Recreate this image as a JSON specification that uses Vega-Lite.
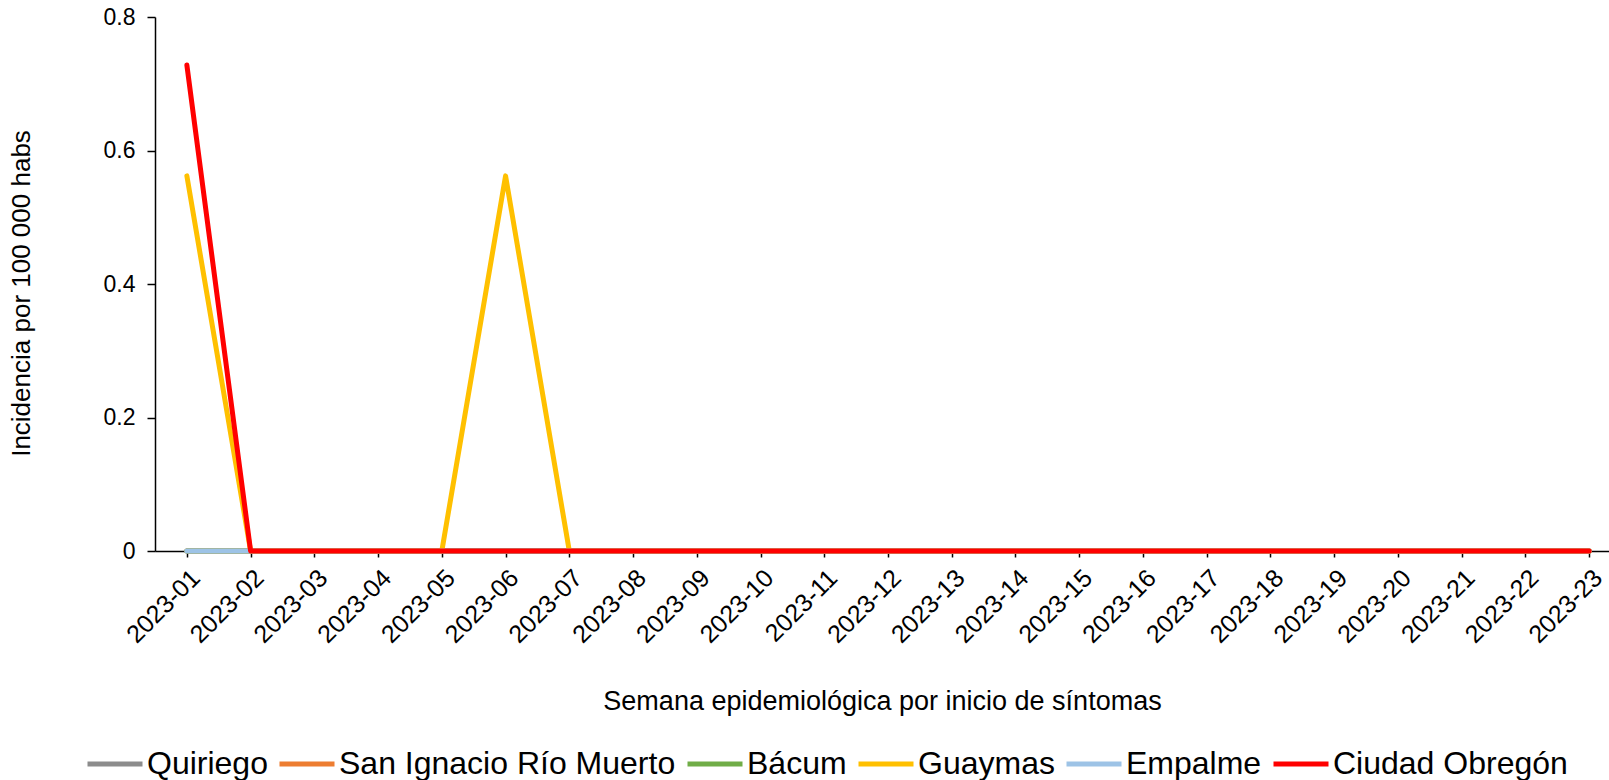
{
  "$schema": "https://vega.github.io/schema/vega-lite/v6.json",
  "autosize": {"type": "none"},
  "padding": {"left": 155, "top": 17, "right": 0, "bottom": 229},
  "width": 1454,
  "height": 534,
  "background": "white",
  "config": {
    "view": {"stroke": null},
    "font": "Liberation Sans",
    "axis": {"grid": false, "domainColor": "#000", "tickColor": "#000", "labelColor": "#000", "titleColor": "#000", "titleFontWeight": "normal", "labelFont": "Liberation Sans", "titleFont": "Liberation Sans"},
    "legend": {"labelFont": "Liberation Sans", "labelColor": "#000"}
  },
  "data": {"values": [
    {"semana":"2023-01","municipio":"Quiriego","valor":0},{"semana":"2023-02","municipio":"Quiriego","valor":0},{"semana":"2023-03","municipio":"Quiriego","valor":0},{"semana":"2023-04","municipio":"Quiriego","valor":0},{"semana":"2023-05","municipio":"Quiriego","valor":0},{"semana":"2023-06","municipio":"Quiriego","valor":0},{"semana":"2023-07","municipio":"Quiriego","valor":0},{"semana":"2023-08","municipio":"Quiriego","valor":0},{"semana":"2023-09","municipio":"Quiriego","valor":0},{"semana":"2023-10","municipio":"Quiriego","valor":0},{"semana":"2023-11","municipio":"Quiriego","valor":0},{"semana":"2023-12","municipio":"Quiriego","valor":0},{"semana":"2023-13","municipio":"Quiriego","valor":0},{"semana":"2023-14","municipio":"Quiriego","valor":0},{"semana":"2023-15","municipio":"Quiriego","valor":0},{"semana":"2023-16","municipio":"Quiriego","valor":0},{"semana":"2023-17","municipio":"Quiriego","valor":0},{"semana":"2023-18","municipio":"Quiriego","valor":0},{"semana":"2023-19","municipio":"Quiriego","valor":0},{"semana":"2023-20","municipio":"Quiriego","valor":0},{"semana":"2023-21","municipio":"Quiriego","valor":0},{"semana":"2023-22","municipio":"Quiriego","valor":0},{"semana":"2023-23","municipio":"Quiriego","valor":0},
    {"semana":"2023-01","municipio":"San Ignacio Río Muerto","valor":0},{"semana":"2023-02","municipio":"San Ignacio Río Muerto","valor":0},{"semana":"2023-03","municipio":"San Ignacio Río Muerto","valor":0},{"semana":"2023-04","municipio":"San Ignacio Río Muerto","valor":0},{"semana":"2023-05","municipio":"San Ignacio Río Muerto","valor":0},{"semana":"2023-06","municipio":"San Ignacio Río Muerto","valor":0},{"semana":"2023-07","municipio":"San Ignacio Río Muerto","valor":0},{"semana":"2023-08","municipio":"San Ignacio Río Muerto","valor":0},{"semana":"2023-09","municipio":"San Ignacio Río Muerto","valor":0},{"semana":"2023-10","municipio":"San Ignacio Río Muerto","valor":0},{"semana":"2023-11","municipio":"San Ignacio Río Muerto","valor":0},{"semana":"2023-12","municipio":"San Ignacio Río Muerto","valor":0},{"semana":"2023-13","municipio":"San Ignacio Río Muerto","valor":0},{"semana":"2023-14","municipio":"San Ignacio Río Muerto","valor":0},{"semana":"2023-15","municipio":"San Ignacio Río Muerto","valor":0},{"semana":"2023-16","municipio":"San Ignacio Río Muerto","valor":0},{"semana":"2023-17","municipio":"San Ignacio Río Muerto","valor":0},{"semana":"2023-18","municipio":"San Ignacio Río Muerto","valor":0},{"semana":"2023-19","municipio":"San Ignacio Río Muerto","valor":0},{"semana":"2023-20","municipio":"San Ignacio Río Muerto","valor":0},{"semana":"2023-21","municipio":"San Ignacio Río Muerto","valor":0},{"semana":"2023-22","municipio":"San Ignacio Río Muerto","valor":0},{"semana":"2023-23","municipio":"San Ignacio Río Muerto","valor":0},
    {"semana":"2023-01","municipio":"Bácum","valor":0},{"semana":"2023-02","municipio":"Bácum","valor":0},{"semana":"2023-03","municipio":"Bácum","valor":0},{"semana":"2023-04","municipio":"Bácum","valor":0},{"semana":"2023-05","municipio":"Bácum","valor":0},{"semana":"2023-06","municipio":"Bácum","valor":0},{"semana":"2023-07","municipio":"Bácum","valor":0},{"semana":"2023-08","municipio":"Bácum","valor":0},{"semana":"2023-09","municipio":"Bácum","valor":0},{"semana":"2023-10","municipio":"Bácum","valor":0},{"semana":"2023-11","municipio":"Bácum","valor":0},{"semana":"2023-12","municipio":"Bácum","valor":0},{"semana":"2023-13","municipio":"Bácum","valor":0},{"semana":"2023-14","municipio":"Bácum","valor":0},{"semana":"2023-15","municipio":"Bácum","valor":0},{"semana":"2023-16","municipio":"Bácum","valor":0},{"semana":"2023-17","municipio":"Bácum","valor":0},{"semana":"2023-18","municipio":"Bácum","valor":0},{"semana":"2023-19","municipio":"Bácum","valor":0},{"semana":"2023-20","municipio":"Bácum","valor":0},{"semana":"2023-21","municipio":"Bácum","valor":0},{"semana":"2023-22","municipio":"Bácum","valor":0},{"semana":"2023-23","municipio":"Bácum","valor":0},
    {"semana":"2023-01","municipio":"Guaymas","valor":0.562},{"semana":"2023-02","municipio":"Guaymas","valor":0},{"semana":"2023-03","municipio":"Guaymas","valor":0},{"semana":"2023-04","municipio":"Guaymas","valor":0},{"semana":"2023-05","municipio":"Guaymas","valor":0},{"semana":"2023-06","municipio":"Guaymas","valor":0.562},{"semana":"2023-07","municipio":"Guaymas","valor":0},{"semana":"2023-08","municipio":"Guaymas","valor":0},{"semana":"2023-09","municipio":"Guaymas","valor":0},{"semana":"2023-10","municipio":"Guaymas","valor":0},{"semana":"2023-11","municipio":"Guaymas","valor":0},{"semana":"2023-12","municipio":"Guaymas","valor":0},{"semana":"2023-13","municipio":"Guaymas","valor":0},{"semana":"2023-14","municipio":"Guaymas","valor":0},{"semana":"2023-15","municipio":"Guaymas","valor":0},{"semana":"2023-16","municipio":"Guaymas","valor":0},{"semana":"2023-17","municipio":"Guaymas","valor":0},{"semana":"2023-18","municipio":"Guaymas","valor":0},{"semana":"2023-19","municipio":"Guaymas","valor":0},{"semana":"2023-20","municipio":"Guaymas","valor":0},{"semana":"2023-21","municipio":"Guaymas","valor":0},{"semana":"2023-22","municipio":"Guaymas","valor":0},{"semana":"2023-23","municipio":"Guaymas","valor":0},
    {"semana":"2023-01","municipio":"Empalme","valor":0},{"semana":"2023-02","municipio":"Empalme","valor":0},{"semana":"2023-03","municipio":"Empalme","valor":0},{"semana":"2023-04","municipio":"Empalme","valor":0},{"semana":"2023-05","municipio":"Empalme","valor":0},{"semana":"2023-06","municipio":"Empalme","valor":0},{"semana":"2023-07","municipio":"Empalme","valor":0},{"semana":"2023-08","municipio":"Empalme","valor":0},{"semana":"2023-09","municipio":"Empalme","valor":0},{"semana":"2023-10","municipio":"Empalme","valor":0},{"semana":"2023-11","municipio":"Empalme","valor":0},{"semana":"2023-12","municipio":"Empalme","valor":0},{"semana":"2023-13","municipio":"Empalme","valor":0},{"semana":"2023-14","municipio":"Empalme","valor":0},{"semana":"2023-15","municipio":"Empalme","valor":0},{"semana":"2023-16","municipio":"Empalme","valor":0},{"semana":"2023-17","municipio":"Empalme","valor":0},{"semana":"2023-18","municipio":"Empalme","valor":0},{"semana":"2023-19","municipio":"Empalme","valor":0},{"semana":"2023-20","municipio":"Empalme","valor":0},{"semana":"2023-21","municipio":"Empalme","valor":0},{"semana":"2023-22","municipio":"Empalme","valor":0},{"semana":"2023-23","municipio":"Empalme","valor":0},
    {"semana":"2023-01","municipio":"Ciudad Obregón","valor":0.728},{"semana":"2023-02","municipio":"Ciudad Obregón","valor":0},{"semana":"2023-03","municipio":"Ciudad Obregón","valor":0},{"semana":"2023-04","municipio":"Ciudad Obregón","valor":0},{"semana":"2023-05","municipio":"Ciudad Obregón","valor":0},{"semana":"2023-06","municipio":"Ciudad Obregón","valor":0},{"semana":"2023-07","municipio":"Ciudad Obregón","valor":0},{"semana":"2023-08","municipio":"Ciudad Obregón","valor":0},{"semana":"2023-09","municipio":"Ciudad Obregón","valor":0},{"semana":"2023-10","municipio":"Ciudad Obregón","valor":0},{"semana":"2023-11","municipio":"Ciudad Obregón","valor":0},{"semana":"2023-12","municipio":"Ciudad Obregón","valor":0},{"semana":"2023-13","municipio":"Ciudad Obregón","valor":0},{"semana":"2023-14","municipio":"Ciudad Obregón","valor":0},{"semana":"2023-15","municipio":"Ciudad Obregón","valor":0},{"semana":"2023-16","municipio":"Ciudad Obregón","valor":0},{"semana":"2023-17","municipio":"Ciudad Obregón","valor":0},{"semana":"2023-18","municipio":"Ciudad Obregón","valor":0},{"semana":"2023-19","municipio":"Ciudad Obregón","valor":0},{"semana":"2023-20","municipio":"Ciudad Obregón","valor":0},{"semana":"2023-21","municipio":"Ciudad Obregón","valor":0},{"semana":"2023-22","municipio":"Ciudad Obregón","valor":0},{"semana":"2023-23","municipio":"Ciudad Obregón","valor":0}
  ]},
  "mark": {"type": "line", "strokeWidth": 5, "strokeCap": "round", "strokeJoin": "round", "clip": false},
  "encoding": {
    "x": {
      "field": "semana", "type": "ordinal",
      "scale": {"type": "point", "range": [0, 1466], "padding": 0.5},
      "axis": {
        "title": "Semana epidemiológica por inicio de síntomas",
        "titleFontSize": 27, "titleY": 150, "titleX": 727, "titleBaseline": "middle", "titleAlign": "center",
        "labelAngle": -45, "labelFontSize": 25, "labelPadding": 8,
        "tickSize": 6, "domainWidth": 1.5, "tickWidth": 1.5
      }
    },
    "y": {
      "field": "valor", "type": "quantitative",
      "scale": {"domain": [0, 0.8], "nice": false, "zero": true},
      "axis": {
        "title": "Incidencia por 100 000 habs",
        "titleFontSize": 26, "titleAngle": -90, "titleBaseline": "middle", "titleAlign": "center",
        "titleX": -134, "titleY": 276,
        "values": [0, 0.2, 0.4, 0.6, 0.8], "format": "~g",
        "labelFontSize": 23, "labelPadding": 12,
        "tickSize": 8, "domainWidth": 1.5, "tickWidth": 1.5
      }
    },
    "color": {
      "field": "municipio", "type": "nominal",
      "scale": {
        "domain": ["Quiriego", "San Ignacio Río Muerto", "Bácum", "Guaymas", "Empalme", "Ciudad Obregón"],
        "range": ["#8C8C8C", "#ED7D31", "#70AD47", "#FFC000", "#9DC3E6", "#FF0000"]
      },
      "legend": {
        "title": null, "orient": "none", "direction": "horizontal", "columns": 6,
        "legendX": -70, "legendY": 717,
        "symbolType": "stroke", "symbolSize": 3025, "symbolStrokeWidth": 5,
        "labelFontSize": 32, "labelOffset": 2, "columnPadding": 1,
        "labelLimit": 0
      }
    }
  }
}
